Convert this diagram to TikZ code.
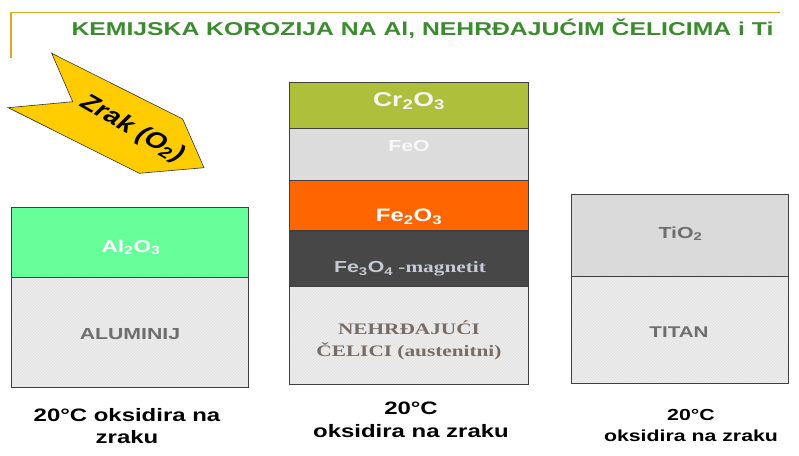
\documentclass[tikz,border=0pt]{standalone}
\usepackage{fontspec}
\setmainfont[FakeStretch=1.33]{Liberation Sans}
\newfontfamily\serifw[FakeStretch=1.33]{Liberation Serif}
\newfontfamily\plainsans{Liberation Sans}
\usetikzlibrary{patterns}
\definecolor{gold}{HTML}{D9A826}
\definecolor{titlegreen}{HTML}{3B8B2F}
\definecolor{arrowyel}{HTML}{FFCC00}
\definecolor{algreen}{HTML}{66FF99}
\definecolor{olive}{HTML}{AEBF3C}
\definecolor{feogray}{HTML}{DCDCDC}
\definecolor{rust}{HTML}{FF6600}
\definecolor{darkox}{HTML}{474747}
\definecolor{metal}{HTML}{E5E5E5}
\definecolor{hatch}{HTML}{F0F0F0}
\definecolor{tiogray}{HTML}{DADADA}
\definecolor{edge}{HTML}{404040}
\definecolor{labgray}{HTML}{6E6E6E}
\definecolor{steeltxt}{HTML}{786C64}
\definecolor{magtxt}{HTML}{C5CAD6}
\tikzset{
  layer/.style={draw=edge, line width=0.8pt},
  metalbox/.style={fill=metal, postaction={pattern=north east lines, pattern color=hatch}, postaction={draw=edge, line width=0.8pt}},
  lbl/.style={inner sep=0pt, anchor=base},
  captxt/.style={lbl, font=\fontsize{18}{22}\selectfont\bfseries, text=black},
}
\begin{document}
\begin{tikzpicture}[x=1pt, y=-1pt]
\useasboundingbox (0,0) rectangle (799,455);
% frame line
\coordinate (fa) at (11,58);
\coordinate (fb) at (11,12.5);
\coordinate (fc) at (780,12.5);
\draw[gold, line width=1.4pt] (fa) -- (fb) -- (fc);
\node[lbl, font=\fontsize{18.6}{22}\selectfont\bfseries, text=titlegreen] (title) at (422.5,35)
  {KEMIJSKA KOROZIJA NA Al, NEHRĐAJUĆIM ČELICIMA i Ti};
% arrow
\draw[fill=arrowyel, draw=black!80, line width=0.6pt]
  (51.7,53.3) -- (182.7,119) -- (204,167.7) -- (139.3,173.3) -- (8.3,107.7) -- (72.7,101.7) -- cycle;
\begin{scope}[shift={(132,129)}, xscale=1.33]
  \node[transform shape, rotate=-37, inner sep=0pt, font=\plainsans\fontsize{22}{24}\selectfont\bfseries] (zrak) at (0,0) {Zrak (O\textsubscript{2})};
\end{scope}
% left column
\draw[layer, fill=algreen] (11.5,207) rectangle (248,277);
\path[metalbox] (11.5,277) rectangle (248,387);
\node[lbl, font=\fontsize{17}{20}\selectfont\bfseries, text=white] (al2o3) at (131,252.4) {Al\textsubscript{2}O\textsubscript{3}};
\node[lbl, font=\fontsize{16}{20}\selectfont\bfseries, text=labgray] (alu) at (130,339) {ALUMINIJ};
\node[captxt] (capl1) at (127,421.3) {20°C oksidira na};
\node[captxt] (capl2) at (127,443) {zraku};
% middle column
\draw[layer, fill=olive] (289,82) rectangle (528,128);
\draw[layer, fill=feogray] (289,128) rectangle (528,180);
\draw[layer, fill=rust] (289,180) rectangle (528,230.5);
\draw[layer, fill=darkox] (289,231) rectangle (528,286);
\path[metalbox] (289,286) rectangle (528,384);
\node[lbl, font=\fontsize{20}{22}\selectfont\bfseries, text=white!96!black] (cr) at (409,106.8) {Cr\textsubscript{2}O\textsubscript{3}};
\node[lbl, font=\fontsize{16}{20}\selectfont\bfseries, text=white!97!black] (feo) at (409,151.5) {FeO};
\node[lbl, font=\fontsize{18}{20}\selectfont\bfseries, text=white] (fe2o3) at (409,221.4) {Fe\textsubscript{2}O\textsubscript{3}};
\node[lbl, font=\fontsize{16}{20}\selectfont\bfseries, text=magtxt] (fe3o4) at (410,272.6) {Fe\textsubscript{3}O\textsubscript{4}\serifw\ -magnetit};
\node[lbl, font=\serifw\fontsize{16}{20}\selectfont\bfseries, text=steeltxt] (st1) at (409,334) {NEHRĐAJUĆI};
\node[lbl, font=\serifw\fontsize{16}{20}\selectfont\bfseries, text=steeltxt] (st2) at (409,356) {ČELICI (austenitni)};
\node[captxt] (capm1) at (411,414.6) {20°C};
\node[captxt] (capm2) at (411,437) {oksidira na zraku};
% right column
\draw[layer, fill=tiogray] (571,194.5) rectangle (788,276);
\path[metalbox] (571,276) rectangle (788,383);
\node[lbl, font=\fontsize{16}{20}\selectfont\bfseries, text=labgray] (tio2) at (680.5,238) {TiO\textsubscript{2}};
\node[lbl, font=\fontsize{15.5}{20}\selectfont\bfseries, text=labgray] (titan) at (679,337) {TITAN};
\node[lbl, font=\fontsize{16}{20}\selectfont\bfseries, text=black] (capr1) at (691,420.7) {20°C};
\node[lbl, font=\fontsize{16}{20}\selectfont\bfseries, text=black] (capr2) at (691,441) {oksidira na zraku};
\end{tikzpicture}
\end{document}
